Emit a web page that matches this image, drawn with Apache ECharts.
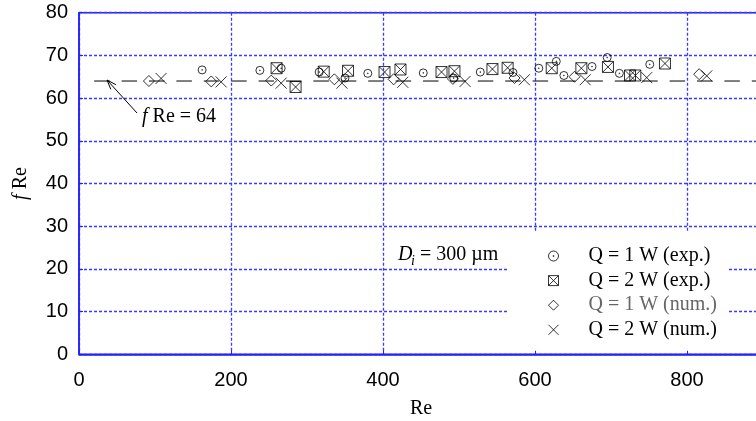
<!DOCTYPE html>
<html>
<head>
<meta charset="utf-8">
<script src="https://cdn.jsdelivr.net/npm/echarts@6/dist/echarts.min.js"></script>
<style>
  html, body { margin: 0; padding: 0; background: #fff; }
  #chart { width: 756px; height: 421px; }
</style>
</head>
<body>
<div id="chart"></div>
<script>
// fRe versus Re for a D_i = 300 µm channel, measured and simulated

// axis ranges
const xMin = 0, xMax = 900, xStep = 200;
const yMin = 0, yMax = 80, yStep = 10;

// Q = 1 W, experiment  [Re, fRe]
const exp1W = [
  [162, 66.6], [238, 66.5], [266, 67.0], [316, 66.1], [350, 64.7], [380, 65.8],
  [453, 65.9], [493, 64.7], [528, 66.1], [571, 66.0], [605, 67.0], [628, 68.6],
  [638, 65.3], [675, 67.4], [695, 69.5], [711, 65.8], [751, 67.9]
];
// Q = 2 W, experiment
const exp2W = [
  [260, 67.0], [285, 62.6], [322, 66.2], [354, 66.4], [402, 66.1], [423, 66.7],
  [477, 66.1], [494, 66.3], [544, 66.8], [564, 67.1], [622, 67.0], [661, 67.0],
  [696, 67.3], [725, 65.3], [732, 65.3], [771, 68.1]
];
// Q = 1 W, numerical
const num1W = [
  [92, 64.0], [174, 63.9], [253, 64.1], [336, 64.4], [414, 64.4],
  [492, 64.5], [573, 64.7], [652, 65.0], [816, 65.6]
];
// Q = 2 W, numerical
const num2W = [
  [108, 64.6], [187, 63.8], [266, 63.5], [346, 63.5], [426, 63.7],
  [508, 63.9], [586, 64.3], [666, 64.3], [747, 64.8], [826, 65.2]
];
// laminar reference fRe = 64
const refLine = [[20, 64], [900, 64]];

const seriesNames = ['Q = 1 W (exp.)', 'Q = 2 W (exp.)', 'Q = 1 W (num.)', 'Q = 2 W (num.)'];

const BLUE = '#1f1fff';
const GRID_BLUE = '#3a3aff';
const SERIF = '"Liberation Serif", "Times New Roman", serif';
const SANS = '"Liberation Sans", Arial, sans-serif';

const SYM = {
  circleDot: 'path://M-4,0A4,4 0 1,1 4,0A4,4 0 1,1 -4,0Z M-0.4,0A0.4,0.4 0 1,1 0.4,0A0.4,0.4 0 1,1 -0.4,0Z',
  boxCross: 'path://M-5,-5L5,-5L5,5L-5,5Z M-5,-5L5,5 M5,-5L-5,5',
  diamond: 'path://M0,-5L5,0L0,5L-5,0Z',
  cross: 'path://M-5,-5L5,5 M5,-5L-5,5'
};

const markerStyle = { color: 'rgba(0,0,0,0)', borderColor: '#000', borderWidth: 1 };

function scatter(name, data, symbol, size) {
  return {
    name, type: 'scatter', data, symbol, symbolSize: size,
    itemStyle: markerStyle, z: 5, silent: true
  };
}

const chart = echarts.init(document.getElementById('chart'), null, { renderer: 'canvas' });

const gridLines = { show: true, lineStyle: { color: GRID_BLUE, width: 1.3, type: [3, 2] } };

chart.setOption({
  animation: false,
  backgroundColor: '#fff',
  grid: {
    left: 79, top: 12.7, width: 684, height: 341.6,
    show: true, borderColor: BLUE, borderWidth: 1.5, backgroundColor: 'rgba(0,0,0,0)',
    containLabel: false, outerBoundsMode: 'none'
  },
  xAxis: {
    type: 'value', min: xMin, max: xMax, interval: xStep,
    name: 'Re', nameLocation: 'middle', nameGap: 44,
    nameTextStyle: { fontFamily: SERIF, fontSize: 20, color: '#000' },
    axisLine: { show: true, lineStyle: { color: BLUE, width: 1.5 } },
    axisTick: { show: true, inside: true, length: 4, lineStyle: { color: BLUE } },
    axisLabel: { color: '#000', fontFamily: SANS, fontSize: 20, margin: 16, showMaxLabel: false },
    splitLine: gridLines
  },
  yAxis: {
    type: 'value', min: yMin, max: yMax, interval: yStep,
    name: '{i|f} Re', nameLocation: 'middle', nameGap: 48,
    nameTextStyle: {
      fontFamily: SERIF, fontSize: 20, color: '#000',
      rich: { i: { fontFamily: SERIF, fontSize: 20, fontStyle: 'italic', color: '#000' } }
    },
    axisLine: { show: true, lineStyle: { color: BLUE, width: 1.5 } },
    axisTick: { show: true, inside: true, length: 4, lineStyle: { color: BLUE } },
    axisLabel: { color: '#000', fontFamily: SANS, fontSize: 20, margin: 11 },
    splitLine: gridLines
  },
  legend: {
    orient: 'vertical', left: 508, top: 232,
    padding: [14, 12, 11, 40],
    backgroundColor: '#fff',
    itemWidth: 10, itemHeight: 10, itemGap: 4.6,
    selectedMode: false,
    itemStyle: { color: 'rgba(0,0,0,0)', borderColor: '#000', borderWidth: 1 },
    textStyle: { fontFamily: SERIF, fontSize: 20, color: '#000', lineHeight: 18, padding: [0, 0, 0, 25] },
    data: [
      { name: seriesNames[0] },
      { name: seriesNames[1] },
      { name: seriesNames[2], textStyle: { color: '#666' } },
      { name: seriesNames[3] }
    ]
  },
  series: [
    {
      name: 'fRe = 64', type: 'line', data: refLine, symbol: 'none', silent: true, z: 3,
      lineStyle: { color: '#000', width: 1, type: [15.5, 11.9] }
    },
    scatter(seriesNames[0], exp1W, SYM.circleDot, 8),
    scatter(seriesNames[1], exp2W, SYM.boxCross, 11),
    scatter(seriesNames[2], num1W, SYM.diamond, 11),
    scatter(seriesNames[3], num2W, SYM.cross, 11)
  ],
  graphic: [
    // leader arrow for the fRe = 64 line
    { type: 'polyline', z: 10, shape: { points: [[137, 113], [107, 80]] }, style: { stroke: '#000', lineWidth: 1, fill: null } },
    { type: 'polyline', z: 10, shape: { points: [[110.8, 89.3], [107, 80], [115.9, 84.7]] }, style: { stroke: '#000', lineWidth: 1, fill: null } },
    {
      type: 'text', z: 10, x: 142, y: 117,
      style: {
        text: '{i|f} Re = 64', fontFamily: SERIF, fontSize: 20, fill: '#000', verticalAlign: 'middle',
        rich: { i: { fontFamily: SERIF, fontSize: 20, fontStyle: 'italic', fill: '#000' } }
      }
    },
    // channel diameter label
    { type: 'text', z: 10, x: 398, y: 255, style: { text: 'D', fontFamily: SERIF, fontSize: 20, fontStyle: 'italic', fill: '#000', verticalAlign: 'middle' } },
    { type: 'text', z: 10, x: 411, y: 261, style: { text: 'i', fontFamily: SERIF, fontSize: 14, fontStyle: 'italic', fill: '#000', verticalAlign: 'middle' } },
    { type: 'text', z: 10, x: 420, y: 255, style: { text: '= 300 µm', fontFamily: SERIF, fontSize: 20, fill: '#000', verticalAlign: 'middle' } }
  ]
});
</script>
</body>
</html>
